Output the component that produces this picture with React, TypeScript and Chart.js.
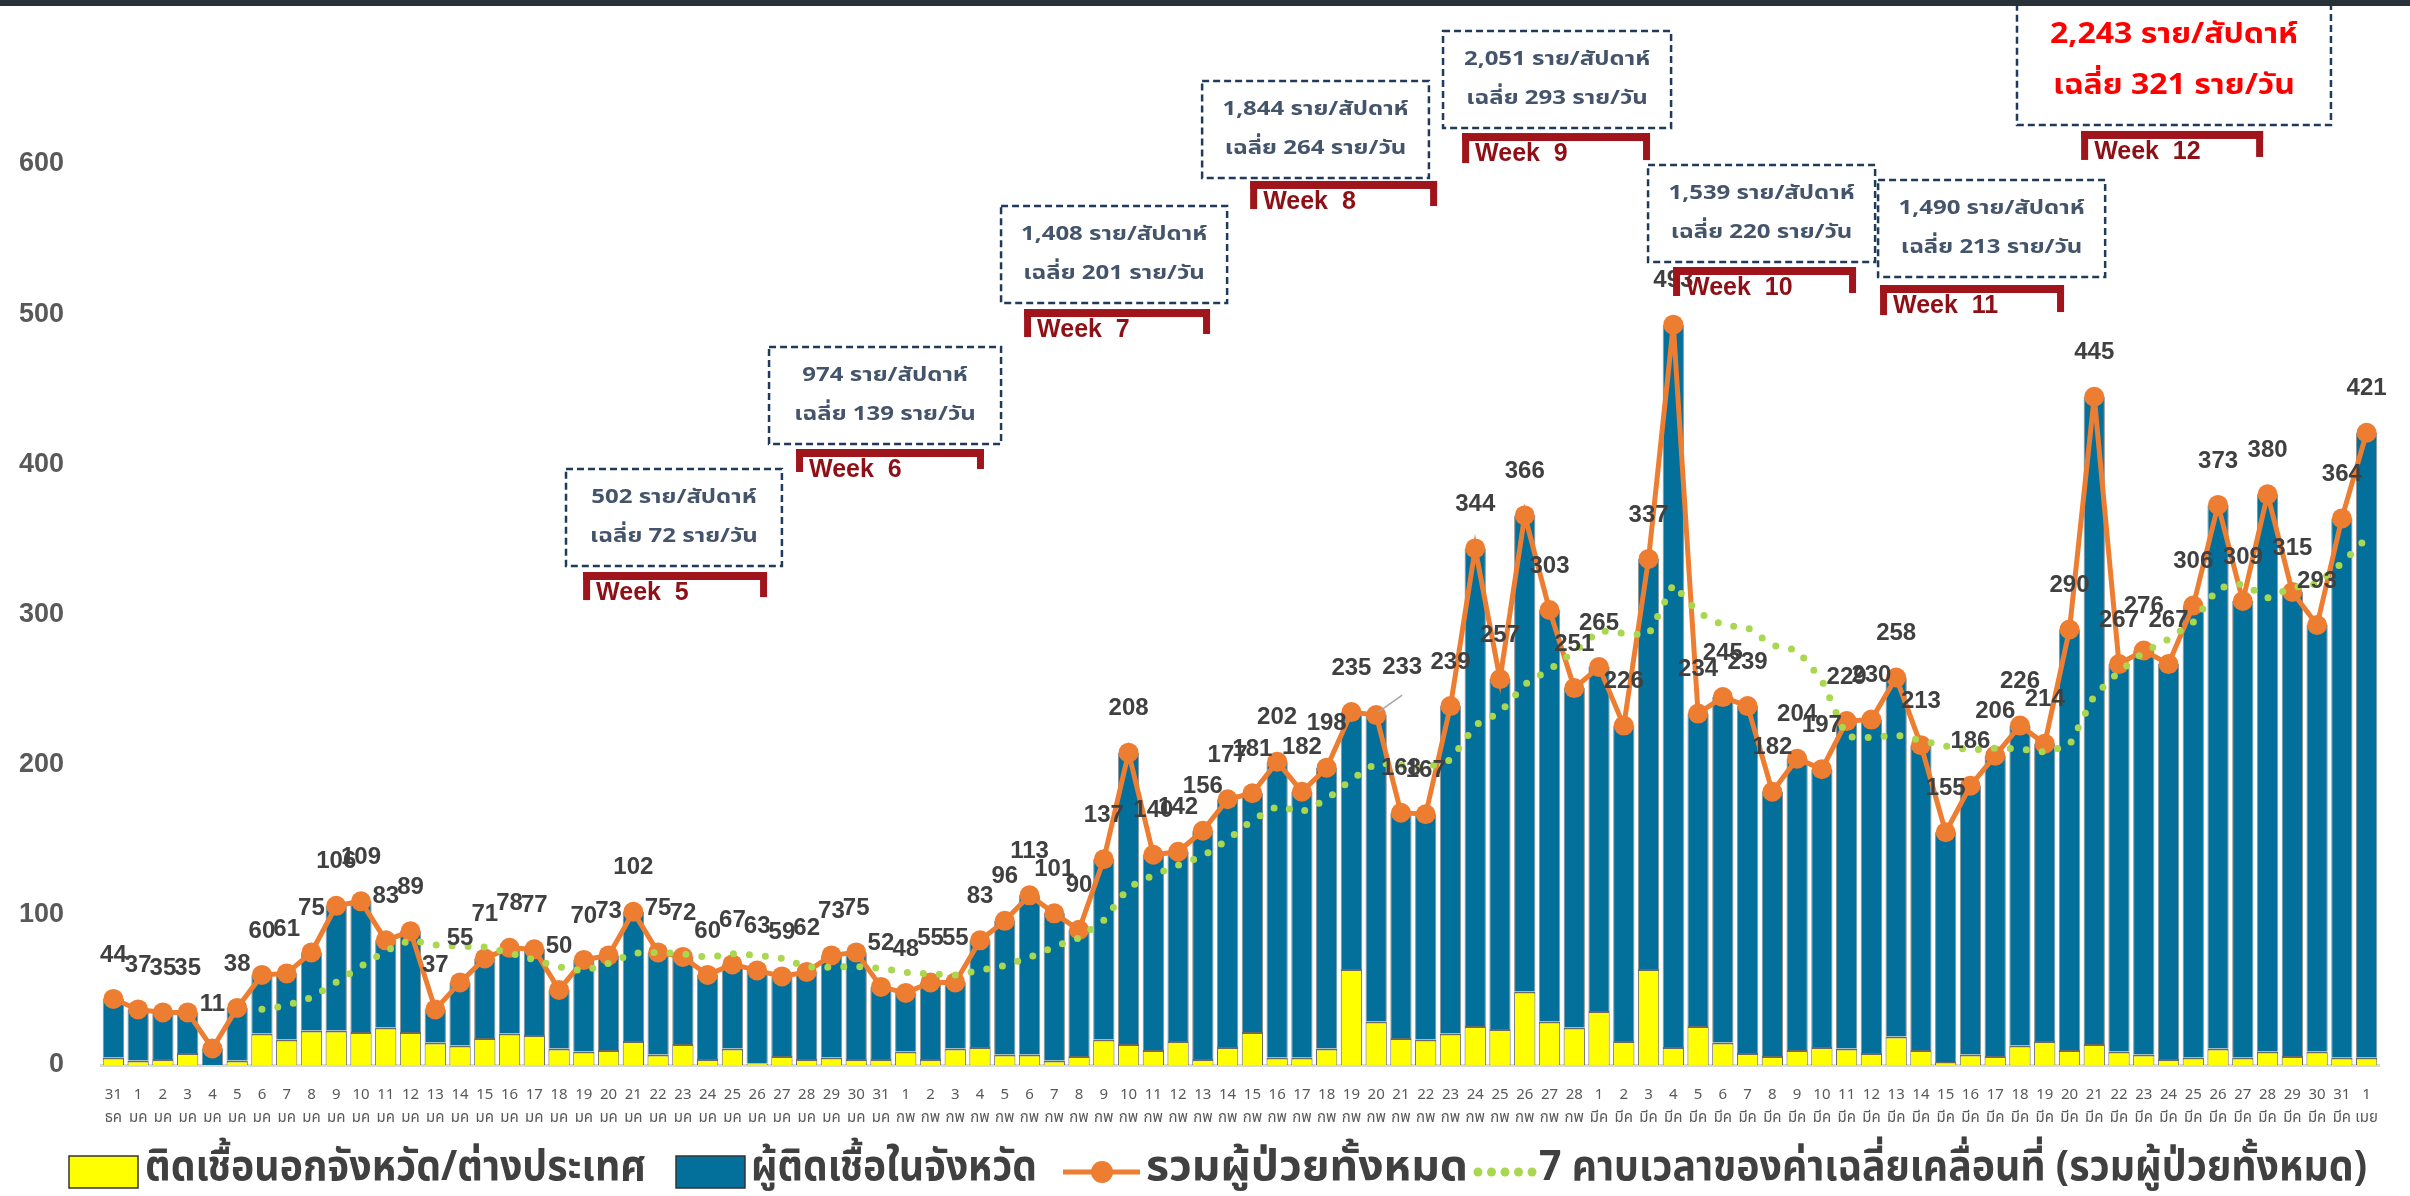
import React, { useEffect, useRef } from 'react';
import { Chart, registerables } from 'chart.js';

Chart.register(...registerables);

// ---------------- DATA ----------------
const dayLabels = [
  '31',
  '1','2','3','4','5','6','7','8','9','10','11','12','13','14','15','16','17','18','19','20','21','22','23','24','25','26','27','28','29','30','31',
  '1','2','3','4','5','6','7','8','9','10','11','12','13','14','15','16','17','18','19','20','21','22','23','24','25','26','27','28',
  '1','2','3','4','5','6','7','8','9','10','11','12','13','14','15','16','17','18','19','20','21','22','23','24','25','26','27','28','29','30','31',
  '1',
];

const monthLabels = [
  'ธค',
  'มค','มค','มค','มค','มค','มค','มค','มค','มค','มค','มค','มค','มค','มค','มค','มค','มค','มค','มค','มค','มค','มค','มค','มค','มค','มค','มค','มค','มค','มค','มค',
  'กพ','กพ','กพ','กพ','กพ','กพ','กพ','กพ','กพ','กพ','กพ','กพ','กพ','กพ','กพ','กพ','กพ','กพ','กพ','กพ','กพ','กพ','กพ','กพ','กพ','กพ','กพ','กพ',
  'มีค','มีค','มีค','มีค','มีค','มีค','มีค','มีค','มีค','มีค','มีค','มีค','มีค','มีค','มีค','มีค','มีค','มีค','มีค','มีค','มีค','มีค','มีค','มีค','มีค','มีค','มีค','มีค','มีค','มีค','มีค',
  'เมย',
];

// infected outside province / abroad (yellow)
const outsideProvince = [
  5,
  3, 4, 8, 0, 3, 21, 17, 23, 23, 22, 25, 22, 15, 13, 18, 21, 20, 11, 9, 10, 16, 7, 14, 4, 11, 1, 6, 4, 5, 4, 4,
  9, 4, 11, 12, 7, 7, 3, 6, 17, 14, 10, 16, 4, 12, 22, 5, 5, 11, 64, 29, 18, 17, 21, 26, 24, 49, 29, 25,
  36, 16, 64, 12, 26, 15, 8, 6, 10, 12, 11, 8, 19, 10, 2, 7, 6, 13, 16, 10, 14, 9, 7, 4, 5, 11, 5, 9, 6, 9, 5,
  5,
];

// infected inside province (blue)
const insideProvince = [
  39,
  34, 31, 27, 11, 35, 39, 44, 52, 83, 87, 58, 67, 22, 42, 53, 57, 57, 39, 61, 63, 86, 68, 58, 56, 56, 62, 53, 58, 68, 71, 48,
  39, 51, 44, 71, 89, 106, 98, 84, 120, 194, 130, 126, 152, 165, 159, 197, 177, 187, 171, 204, 150, 150, 218, 318, 233, 317, 274, 226,
  229, 210, 273, 481, 208, 230, 231, 176, 194, 185, 218, 222, 239, 203, 153, 179, 200, 213, 198, 280, 431, 258, 269, 263, 301, 362, 304, 371, 309, 284, 359,
  416,
];

// total patients (orange line)
const totalCases = [
  44,
  37, 35, 35, 11, 38, 60, 61, 75, 106, 109, 83, 89, 37, 55, 71, 78, 77, 50, 70, 73, 102, 75, 72, 60, 67, 63, 59, 62, 73, 75, 52,
  48, 55, 55, 83, 96, 113, 101, 90, 137, 208, 140, 142, 156, 177, 181, 202, 182, 198, 235, 233, 168, 167, 239, 344, 257, 366, 303, 251,
  265, 226, 337, 493, 234, 245, 239, 182, 204, 197, 229, 230, 258, 213, 155, 186, 206, 226, 214, 290, 445, 267, 276, 267, 306, 373, 309, 380, 315, 293, 364,
  421,
];

// 7-period moving average (green dotted)
const movingAverage7 = [
  null,
  null, null, null, null, null, 37.1, 39.6, 45.0, 55.1, 65.7, 76.0, 83.3, 80.0, 79.1, 78.6, 74.6, 70.0, 65.3, 62.6, 67.7, 74.4, 75.0, 74.1, 71.7, 74.1, 73.1, 71.1, 65.4, 65.1, 65.6, 64.4,
  61.7, 60.6, 60.0, 63.0, 66.3, 71.7, 78.7, 84.7, 96.4, 118.3, 126.4, 133.0, 139.1, 150.0, 163.0, 172.3, 168.6, 176.9, 190.1, 201.1, 199.9, 197.9, 203.1, 226.3, 234.7, 253.4, 263.4, 275.3,
  289.3, 287.4, 286.4, 320.1, 301.3, 293.0, 291.3, 279.4, 276.3, 256.3, 218.6, 218.0, 219.9, 216.1, 212.3, 209.7, 211.0, 210.6, 208.3, 212.9, 246.0, 262.0, 274.9, 283.6, 295.0, 317.7, 320.4, 311.1, 318.0, 320.4, 334.3,
  350.7,
];

const weekNumbers = ['5', '6', '7', '8', '9', '10', '11', '12'];
const weekTotals = ['502', '974', '1,408', '1,844', '2,051', '1,539', '1,490', '2,243'];
const weekDailyAvg = ['72', '139', '201', '264', '293', '220', '213', '321'];

const seriesNames = [
  'ติดเชื้อนอกจังหวัด/ต่างประเทศ',
  'ผู้ติดเชื้อในจังหวัด',
  'รวมผู้ป่วยทั้งหมด',
  '7 คาบเวลาของค่าเฉลี่ยเคลื่อนที่ (รวมผู้ป่วยทั้งหมด)',
];

// ---------------- LAYOUT / STYLE ----------------
// annotation placement in (category index, axis value) coordinates
const weekLayout = [
  { box: [18.28, 27.0, 396.9, 332.3], bracket: [18.97, 26.4, 328.3, 309.6] },
  { box: [26.48, 35.85, 478.1, 413.5], bracket: [27.57, 35.16, 410.2, 394.9] },
  { box: [35.85, 44.98, 572.0, 507.4], bracket: [36.78, 44.29, 503.4, 484.8] },
  { box: [43.97, 53.13, 655.3, 590.7], bracket: [45.91, 53.46, 588.7, 570.0] },
  { box: [53.7, 62.91, 688.6, 624.0], bracket: [54.47, 62.06, 620.6, 600.6] },
  { box: [61.98, 71.15, 599.3, 534.7], bracket: [62.99, 70.38, 531.4, 512.1] },
  { box: [71.27, 80.44, 589.3, 524.7], bracket: [71.35, 78.78, 519.4, 499.4] },
  { box: [76.88, 89.56, 710.5, 626.0], bracket: [79.47, 86.82, 622.0, 602.7] },
];

// label nudges (pixels) for the one label moved off its point in the source, with a leader line
const labelNudge: Record<number, { dx: number; dy: number }> = { 51: { dx: 26, dy: -4 } };

const W = 2410;
const H = 1196;
const LATIN = '"Liberation Sans", Arial, Helvetica, sans-serif';
const THAI = '"Noto Sans Thai", "Noto Sans Thai UI", "Leelawadee UI", Tahoma, "Noto Sans", "Liberation Sans", sans-serif';
const YELLOW = '#FFFF00';
const BLUE = '#03709C';
const ORANGE = '#ED7D31';
const GREEN = '#A9D74F';
const DARKRED = '#A0141C';
const TEXT_DARK = '#404040';
const AXIS_GREY = '#595959';

function drawScaledText(ctx: CanvasRenderingContext2D, text: string, x: number, y: number, font: string, color: string, align: CanvasTextAlign, sx: number) {
  ctx.save();
  ctx.font = font;
  ctx.fillStyle = color;
  ctx.textAlign = align;
  ctx.textBaseline = 'middle';
  ctx.translate(x, y);
  ctx.scale(sx, 1);
  ctx.fillText(text, 0, 0);
  ctx.restore();
}

function fitScale(ctx: CanvasRenderingContext2D, text: string, font: string, target: number) {
  ctx.save();
  ctx.font = font;
  const w = ctx.measureText(text).width;
  ctx.restore();
  const s = target / (w || 1);
  return Math.max(0.55, Math.min(1.4, s));
}

const valueLabelPlugin = {
  id: 'valueLabels',
  afterDatasetsDraw(chart: any) {
    const ctx: CanvasRenderingContext2D = chart.ctx;
    const meta = chart.getDatasetMeta(2);
    ctx.save();
    ctx.font = `bold 24px ${LATIN}`;
    ctx.fillStyle = TEXT_DARK;
    ctx.textAlign = 'center';
    ctx.textBaseline = 'middle';
    meta.data.forEach((pt: any, i: number) => {
      const n = labelNudge[i];
      const lx = pt.x + (n ? n.dx : 0);
      const ly = pt.y - 44 + (n ? n.dy : 0);
      if (n) {
        ctx.save();
        ctx.strokeStyle = '#A6A6A6';
        ctx.lineWidth = 1.5;
        ctx.beginPath();
        ctx.moveTo(pt.x + 2, pt.y - 3);
        ctx.lineTo(lx, pt.y - 20);
        ctx.stroke();
        ctx.restore();
      }
      ctx.fillText(String(totalCases[i]), lx, ly);
    });
    ctx.restore();
  },
};

const annotationPlugin = {
  id: 'weekNotes',
  afterDraw(chart: any) {
    const ctx: CanvasRenderingContext2D = chart.ctx;
    const xs = chart.scales.x;
    const ys = chart.scales.y;
    ctx.save();

    const boxFont = `bold 20px ${THAI}`;
    const boxScale = fitScale(ctx, `${weekTotals[4]} ราย/สัปดาห์`, boxFont, 186);
    const redFont = `bold 28px ${THAI}`;
    const redScale = fitScale(ctx, `${weekTotals[7]} ราย/สัปดาห์`, redFont, 248);

    weekNumbers.forEach((wk, i) => {
      const L = weekLayout[i];
      const bx0 = xs.getPixelForValue(L.box[0]);
      const bx1 = xs.getPixelForValue(L.box[1]);
      const by0 = ys.getPixelForValue(L.box[2]);
      const by1 = ys.getPixelForValue(L.box[3]);
      ctx.save();
      ctx.fillStyle = '#FFFFFF';
      ctx.fillRect(bx0, by0, bx1 - bx0, by1 - by0);
      ctx.setLineDash([7, 4]);
      ctx.lineWidth = 2.5;
      ctx.strokeStyle = '#203A5C';
      ctx.strokeRect(bx0, by0, bx1 - bx0, by1 - by0);
      ctx.restore();

      const cx = (bx0 + bx1) / 2;
      const h = by1 - by0;
      const isLast = i === weekNumbers.length - 1;
      const font = isLast ? redFont : boxFont;
      const color = isLast ? '#FF0000' : '#44546A';
      const sc = isLast ? redScale : boxScale;
      drawScaledText(ctx, `${weekTotals[i]} ราย/สัปดาห์`, cx, by0 + h * 0.31, font, color, 'center', sc);
      drawScaledText(ctx, `เฉลี่ย ${weekDailyAvg[i]} ราย/วัน`, cx, by0 + h * 0.71, font, color, 'center', sc);

      // bracket
      const kx0 = xs.getPixelForValue(L.bracket[0]);
      const kx1 = xs.getPixelForValue(L.bracket[1]);
      const ky0 = ys.getPixelForValue(L.bracket[2]);
      const ky1 = ys.getPixelForValue(L.bracket[3]);
      ctx.fillStyle = DARKRED;
      ctx.fillRect(kx0, ky0, kx1 - kx0, 8);
      ctx.fillRect(kx0, ky0, 7, ky1 - ky0);
      ctx.fillRect(kx1 - 7, ky0, 7, ky1 - ky0 - 3);
      ctx.font = `bold 25px ${LATIN}`;
      ctx.fillStyle = '#8E0F16';
      ctx.textAlign = 'left';
      ctx.textBaseline = 'middle';
      ctx.fillText(`Week  ${wk}`, kx0 + 13, ky0 + 21);
    });

    // top dark strip
    ctx.fillStyle = '#263238';
    ctx.fillRect(0, 0, chart.width, 6);

    // legend
    const ly = chart.height - 24;
    const legFont = `bold 42px ${THAI}`;
    // yellow
    ctx.fillStyle = YELLOW;
    ctx.fillRect(69, ly - 16, 69, 32);
    ctx.strokeStyle = '#333333';
    ctx.lineWidth = 1.5;
    ctx.strokeRect(69, ly - 16, 69, 32);
    drawScaledText(ctx, seriesNames[0], 145, ly, legFont, TEXT_DARK, 'left', fitScale(ctx, seriesNames[0], legFont, 501));
    // blue
    ctx.fillStyle = BLUE;
    ctx.fillRect(676, ly - 16, 69, 32);
    ctx.strokeRect(676, ly - 16, 69, 32);
    drawScaledText(ctx, seriesNames[1], 751, ly, legFont, TEXT_DARK, 'left', fitScale(ctx, seriesNames[1], legFont, 286));
    // orange line
    ctx.strokeStyle = ORANGE;
    ctx.lineWidth = 5;
    ctx.beginPath();
    ctx.moveTo(1063, ly);
    ctx.lineTo(1140, ly);
    ctx.stroke();
    ctx.fillStyle = ORANGE;
    ctx.beginPath();
    ctx.arc(1102, ly, 11, 0, Math.PI * 2);
    ctx.fill();
    drawScaledText(ctx, seriesNames[2], 1146, ly, legFont, TEXT_DARK, 'left', fitScale(ctx, seriesNames[2], legFont, 322));
    // green dots
    ctx.fillStyle = GREEN;
    for (let k = 0; k < 5; k++) {
      ctx.beginPath();
      ctx.arc(1478 + k * 13.5, ly, 4.5, 0, Math.PI * 2);
      ctx.fill();
    }
    drawScaledText(ctx, seriesNames[3], 1539, ly, legFont, TEXT_DARK, 'left', fitScale(ctx, seriesNames[3], legFont, 828));

    ctx.restore();
  },
};

export default function App() {
  const canvasRef = useRef<HTMLCanvasElement | null>(null);

  useEffect(() => {
    const canvas = canvasRef.current;
    if (!canvas) return;
    const chart = new Chart(canvas, {
      type: 'bar',
      data: {
        labels: dayLabels.map((d, i) => [d, monthLabels[i]]),
        datasets: [
          {
            type: 'bar',
            label: seriesNames[0],
            data: outsideProvince,
            backgroundColor: YELLOW,
            borderColor: 'rgba(55,55,55,0.75)',
            borderWidth: { top: 2, left: 1, right: 1, bottom: 0 },
            borderSkipped: false,
            barPercentage: 0.86,
            categoryPercentage: 1,
            stack: 'cases',
            order: 2,
          },
          {
            type: 'bar',
            label: seriesNames[1],
            data: insideProvince,
            backgroundColor: BLUE,
            borderColor: 'rgba(55,55,55,0.55)',
            borderWidth: { top: 0, left: 1, right: 1, bottom: 0 },
            borderSkipped: false,
            barPercentage: 0.86,
            categoryPercentage: 1,
            stack: 'cases',
            order: 2,
          },
          {
            type: 'line',
            label: seriesNames[2],
            data: totalCases,
            borderColor: ORANGE,
            backgroundColor: ORANGE,
            borderWidth: 5,
            pointRadius: 10,
            pointBackgroundColor: ORANGE,
            pointBorderColor: ORANGE,
            pointBorderWidth: 0,
            tension: 0,
            stack: 'total',
            order: 1,
          },
          {
            type: 'line',
            label: seriesNames[3],
            data: movingAverage7,
            borderColor: GREEN,
            borderWidth: 7,
            borderDash: [0, 16],
            borderCapStyle: 'round',
            pointRadius: 0,
            tension: 0,
            fill: false,
            stack: 'ma',
            order: 0,
          },
        ] as any,
      },
      options: {
        responsive: false,
        animation: false,
        devicePixelRatio: 1,
        layout: { padding: { top: 164, right: 31, left: 0, bottom: 0 } },
        plugins: {
          legend: { display: false },
          tooltip: { enabled: false },
        },
        scales: {
          x: {
            stacked: true,
            offset: true,
            grid: { display: false, drawTicks: false },
            border: { display: true, color: '#D9D9D9', width: 3 },
            ticks: {
              autoSkip: false,
              maxRotation: 0,
              minRotation: 0,
              color: AXIS_GREY,
              padding: 20,
              font: { size: 15, family: THAI, lineHeight: 1.5 },
            },
            afterFit(scale: any) {
              scale.height = 131;
            },
          },
          y: {
            stacked: true,
            min: 0,
            max: 600,
            grid: { display: false, drawTicks: false },
            border: { display: false },
            ticks: {
              stepSize: 100,
              color: AXIS_GREY,
              padding: 37,
              font: { size: 27, weight: 'bold', family: LATIN },
            },
            afterFit(scale: any) {
              scale.width = 101;
            },
          },
        },
      } as any,
      plugins: [valueLabelPlugin, annotationPlugin],
    });
    return () => chart.destroy();
  }, []);

  return (
    <div style={{ position: 'absolute', left: 0, top: 0, width: W, height: H, background: '#FFFFFF' }}>
      <canvas ref={canvasRef} width={W} height={H} style={{ display: 'block', width: W, height: H }} />
    </div>
  );
}
